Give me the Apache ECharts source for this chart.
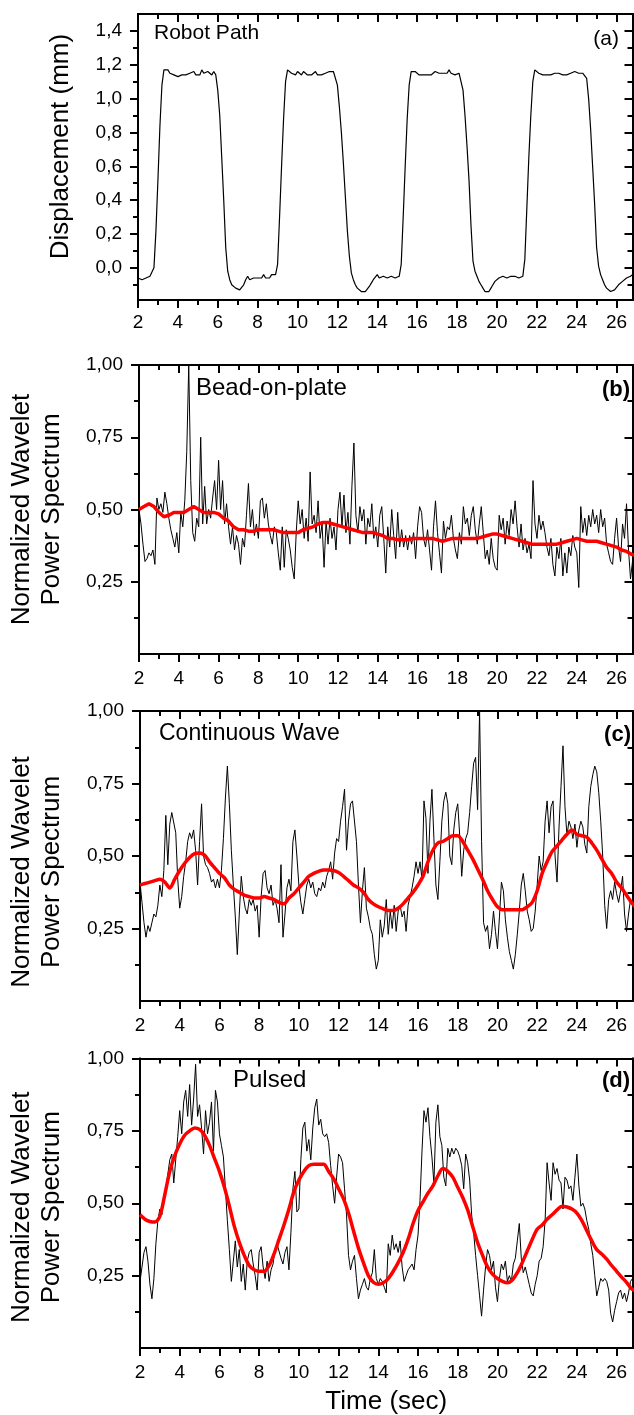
<!DOCTYPE html>
<html>
<head>
<meta charset="UTF-8">
<title>Robot path and wavelet power spectrum</title>
<script src="https://cdn.jsdelivr.net/npm/echarts@6.0.0/dist/echarts.min.js"></script>
<style>
  html, body { margin: 0; padding: 0; background: #fff; }
  #main { width: 634px; height: 1415px; }
</style>
</head>
<body>
<div id="main"></div>
<script type="text/javascript">
// traces start at 2 s; raw traces every 0.1 s, smoothed (red) every 0.25 s
var t0 = 2.0;
var dtRaw = 0.1;
var dtSmooth = 0.25;

// tick values
var xMajor = [2, 4, 6, 8, 10, 12, 14, 16, 18, 20, 22, 24, 26];
var xMinor = [3, 5, 7, 9, 11, 13, 15, 17, 19, 21, 23, 25];
var dispMajor = [0, 0.2, 0.4, 0.6, 0.8, 1.0, 1.2, 1.4];
var dispMinor = [-0.1, 0.1, 0.3, 0.5, 0.7, 0.9, 1.1, 1.3];
var powerMajor = [0.25, 0.5, 0.75, 1.0];
var powerMinor = [0.125, 0.375, 0.625, 0.875];

// (a) robot path, mm
var robotPath = [
  -0.06, -0.06, -0.07, -0.06, -0.06, -0.07, -0.05, -0.04, 0.00, 0.22,
  0.52, 0.84, 1.08, 1.17, 1.18, 1.17, 1.15, 1.16, 1.14, 1.15,
  1.13, 1.14, 1.14, 1.15, 1.14, 1.14, 1.15, 1.14, 1.16, 1.14,
  1.15, 1.14, 1.17, 1.15, 1.14, 1.16, 1.15, 1.14, 1.16, 1.14,
  1.05, 0.90, 0.65, 0.40, 0.12, -0.02, -0.07, -0.10, -0.11, -0.12,
  -0.13, -0.13, -0.12, -0.10, -0.07, -0.05, -0.07, -0.07, -0.06, -0.07,
  -0.06, -0.05, -0.06, -0.04, -0.06, -0.05, -0.06, -0.04, -0.05, -0.04,
  0.02, 0.30, 0.60, 0.88, 1.10, 1.17, 1.16, 1.15, 1.16, 1.14,
  1.16, 1.15, 1.14, 1.16, 1.15, 1.14, 1.15, 1.14, 1.15, 1.16,
  1.14, 1.15, 1.14, 1.14, 1.15, 1.14, 1.16, 1.15, 1.16, 1.17,
  1.08, 0.95, 0.80, 0.62, 0.42, 0.22, 0.07, -0.03, -0.07, -0.10,
  -0.12, -0.13, -0.14, -0.15, -0.14, -0.13, -0.11, -0.09, -0.07, -0.07,
  -0.04, -0.06, -0.06, -0.05, -0.05, -0.06, -0.05, -0.05, -0.05, -0.06,
  -0.05, -0.05, 0.02, 0.30, 0.60, 0.88, 1.08, 1.16, 1.17, 1.16,
  1.15, 1.14, 1.15, 1.14, 1.13, 1.14, 1.15, 1.14, 1.15, 1.16,
  1.15, 1.15, 1.14, 1.15, 1.16, 1.15, 1.17, 1.15, 1.15, 1.14,
  1.15, 1.15, 1.14, 1.05, 0.90, 0.72, 0.52, 0.25, 0.04, -0.02,
  -0.05, -0.08, -0.10, -0.12, -0.14, -0.15, -0.14, -0.12, -0.10, -0.08,
  -0.07, -0.06, -0.06, -0.05, -0.05, -0.06, -0.05, -0.05, -0.06, -0.05,
  -0.05, -0.06, -0.05, -0.05, 0.05, 0.35, 0.65, 0.90, 1.10, 1.17,
  1.16, 1.15, 1.15, 1.14, 1.15, 1.14, 1.15, 1.14, 1.15, 1.15,
  1.14, 1.15, 1.16, 1.14, 1.15, 1.14, 1.15, 1.15, 1.14, 1.16,
  1.15, 1.15, 1.14, 1.15, 1.15, 1.12, 1.00, 0.82, 0.60, 0.38,
  0.12, 0.01, -0.04, -0.07, -0.10, -0.12, -0.13, -0.14, -0.14, -0.13,
  -0.12, -0.10, -0.09, -0.08, -0.07, -0.06, -0.05, -0.05, -0.04
];

// (b) bead-on-plate
var beadRaw = [
  0.50, 0.45, 0.38, 0.32, 0.33, 0.35, 0.34, 0.36, 0.31, 0.54,
  0.50, 0.52, 0.49, 0.56, 0.52, 0.47, 0.43, 0.40, 0.37, 0.42,
  0.35, 0.49, 0.44, 0.53, 0.70, 1.00, 0.60, 0.42, 0.39, 0.47,
  0.44, 0.75, 0.45, 0.58, 0.45, 0.50, 0.47, 0.54, 0.60, 0.50,
  0.67, 0.50, 0.60, 0.45, 0.52, 0.44, 0.38, 0.44, 0.36, 0.41,
  0.38, 0.31, 0.40, 0.37, 0.48, 0.59, 0.44, 0.50, 0.41, 0.45,
  0.40, 0.53, 0.54, 0.47, 0.52, 0.45, 0.41, 0.38, 0.44, 0.42,
  0.35, 0.29, 0.44, 0.30, 0.43, 0.40, 0.36, 0.30, 0.26, 0.42,
  0.53, 0.45, 0.50, 0.40, 0.47, 0.39, 0.63, 0.45, 0.48, 0.42,
  0.53, 0.40, 0.45, 0.30, 0.46, 0.38, 0.47, 0.40, 0.44, 0.36,
  0.50, 0.56, 0.44, 0.55, 0.42, 0.49, 0.38, 0.58, 0.73, 0.48,
  0.42, 0.51, 0.46, 0.50, 0.38, 0.47, 0.44, 0.52, 0.40, 0.44,
  0.37, 0.48, 0.51, 0.40, 0.28, 0.44, 0.37, 0.50, 0.41, 0.33,
  0.49, 0.37, 0.43, 0.37, 0.41, 0.36, 0.41, 0.38, 0.42, 0.33,
  0.44, 0.51, 0.49, 0.40, 0.37, 0.43, 0.36, 0.29, 0.44, 0.53,
  0.42, 0.35, 0.28, 0.46, 0.40, 0.44, 0.43, 0.48, 0.40, 0.36,
  0.33, 0.42, 0.38, 0.51, 0.45, 0.47, 0.41, 0.48, 0.51, 0.43,
  0.38, 0.45, 0.51, 0.42, 0.33, 0.36, 0.31, 0.40, 0.33, 0.30,
  0.29, 0.48, 0.43, 0.47, 0.38, 0.46, 0.41, 0.50, 0.45, 0.53,
  0.44, 0.37, 0.45, 0.36, 0.40, 0.35, 0.38, 0.33, 0.60, 0.45,
  0.40, 0.48, 0.43, 0.46, 0.42, 0.37, 0.34, 0.40, 0.31, 0.27,
  0.37, 0.33, 0.40, 0.27, 0.35, 0.28, 0.37, 0.34, 0.41, 0.37,
  0.35, 0.23, 0.51, 0.42, 0.47, 0.41, 0.48, 0.44, 0.50, 0.45,
  0.48, 0.42, 0.50, 0.44, 0.47, 0.38, 0.35, 0.32, 0.31, 0.40,
  0.47, 0.37, 0.32, 0.45, 0.40, 0.52, 0.36, 0.26, 0.32
];
var beadSmooth = [
  0.50, 0.51, 0.52, 0.51, 0.49, 0.475, 0.48, 0.49, 0.49, 0.49,
  0.50, 0.51, 0.50, 0.49, 0.49, 0.49, 0.485, 0.47, 0.46, 0.44,
  0.43, 0.43, 0.425, 0.425, 0.43, 0.43, 0.43, 0.43, 0.425, 0.42,
  0.42, 0.42, 0.42, 0.43, 0.435, 0.44, 0.45, 0.455, 0.455, 0.45,
  0.445, 0.44, 0.435, 0.43, 0.425, 0.42, 0.42, 0.42, 0.415, 0.41,
  0.40, 0.40, 0.395, 0.395, 0.395, 0.40, 0.40, 0.40, 0.40, 0.40,
  0.395, 0.39, 0.395, 0.40, 0.40, 0.40, 0.40, 0.40, 0.40, 0.405,
  0.41, 0.415, 0.415, 0.41, 0.405, 0.40, 0.395, 0.39, 0.385, 0.38,
  0.38, 0.38, 0.38, 0.38, 0.38, 0.385, 0.39, 0.395, 0.40, 0.395,
  0.39, 0.39, 0.39, 0.385, 0.38, 0.375, 0.37, 0.36, 0.355, 0.345,
  0.34
];

// (c) continuous wave
var cwRaw = [
  0.41, 0.34, 0.27, 0.22, 0.26, 0.24, 0.27, 0.30, 0.29, 0.33,
  0.40, 0.36, 0.45, 0.64, 0.47, 0.61, 0.65, 0.65, 0.58, 0.42,
  0.32, 0.36, 0.43, 0.48, 0.55, 0.58, 0.56, 0.59, 0.52, 0.40,
  0.55, 0.68, 0.50, 0.47, 0.46, 0.44, 0.41, 0.42, 0.39, 0.42,
  0.39, 0.45, 0.56, 0.70, 0.81, 0.68, 0.52, 0.40, 0.29, 0.16,
  0.30, 0.43, 0.36, 0.32, 0.30, 0.35, 0.33, 0.35, 0.31, 0.33,
  0.22, 0.36, 0.44, 0.45, 0.39, 0.37, 0.40, 0.33, 0.35, 0.32,
  0.27, 0.47, 0.22, 0.30, 0.39, 0.42, 0.38, 0.55, 0.59, 0.50,
  0.40, 0.34, 0.30, 0.35, 0.40, 0.42, 0.39, 0.41, 0.37, 0.36,
  0.39, 0.38, 0.41, 0.39, 0.43, 0.45, 0.48, 0.42, 0.51, 0.56,
  0.55, 0.62, 0.67, 0.73, 0.52, 0.62, 0.68, 0.69, 0.69, 0.55,
  0.40, 0.27, 0.38, 0.46, 0.32, 0.29, 0.25, 0.23, 0.16, 0.11,
  0.14, 0.28, 0.22, 0.26, 0.35, 0.23, 0.31, 0.25, 0.33, 0.24,
  0.31, 0.33, 0.29, 0.31, 0.24, 0.33, 0.36, 0.39, 0.43, 0.48,
  0.44, 0.48, 0.42, 0.69, 0.63, 0.44, 0.62, 0.73, 0.56, 0.40,
  0.35, 0.48, 0.62, 0.69, 0.72, 0.68, 0.50, 0.47, 0.59, 0.65,
  0.68, 0.57, 0.43, 0.52, 0.56, 0.58, 0.65, 0.74, 0.82, 0.84,
  0.66, 1.00, 0.55, 0.27, 0.24, 0.26, 0.18, 0.23, 0.31, 0.24,
  0.18, 0.29, 0.41, 0.38, 0.28, 0.22, 0.17, 0.14, 0.11, 0.16,
  0.23, 0.31, 0.40, 0.44, 0.38, 0.31, 0.28, 0.24, 0.25, 0.31,
  0.40, 0.50, 0.45, 0.48, 0.62, 0.69, 0.58, 0.67, 0.69, 0.50,
  0.41, 0.60, 0.74, 0.88, 0.67, 0.57, 0.62, 0.60, 0.56, 0.61,
  0.53, 0.59, 0.62, 0.60, 0.54, 0.51, 0.67, 0.74, 0.78, 0.81,
  0.79, 0.72, 0.62, 0.50, 0.33, 0.25, 0.35, 0.38, 0.35, 0.41,
  0.37, 0.34, 0.38, 0.43, 0.30, 0.24, 0.30, 0.35, 0.34
];
var cwSmooth = [
  0.40, 0.405, 0.41, 0.415, 0.42, 0.41, 0.39, 0.42, 0.45, 0.475,
  0.495, 0.508, 0.51, 0.503, 0.48, 0.46, 0.44, 0.425, 0.40, 0.385,
  0.375, 0.365, 0.36, 0.355, 0.355, 0.36, 0.355, 0.35, 0.34, 0.335,
  0.355, 0.37, 0.39, 0.41, 0.43, 0.44, 0.447, 0.452, 0.452, 0.45,
  0.443, 0.43, 0.415, 0.40, 0.39, 0.375, 0.35, 0.335, 0.325, 0.318,
  0.312, 0.312, 0.32, 0.335, 0.355, 0.375, 0.40, 0.43, 0.48, 0.52,
  0.545, 0.55, 0.56, 0.57, 0.57, 0.55, 0.52, 0.49, 0.455, 0.42,
  0.38, 0.35, 0.325, 0.315, 0.315, 0.315, 0.315, 0.315, 0.325, 0.34,
  0.38, 0.44, 0.48, 0.515, 0.535, 0.555, 0.575, 0.59, 0.575, 0.57,
  0.565, 0.545, 0.52, 0.49, 0.46, 0.44, 0.41, 0.39, 0.365, 0.34,
  0.32
];

// (d) pulsed
var pulsedRaw = [
  0.23, 0.28, 0.33, 0.35, 0.30, 0.22, 0.17, 0.24, 0.36, 0.44,
  0.48, 0.46, 0.52, 0.55, 0.60, 0.65, 0.67, 0.57, 0.65, 0.73,
  0.82, 0.74, 0.85, 0.89, 0.80, 0.91, 0.77, 0.86, 0.98, 0.80,
  0.84, 0.76, 0.67, 0.82, 0.74, 0.78, 0.85, 0.68, 0.89, 0.85,
  0.74, 0.70, 0.66, 0.55, 0.44, 0.34, 0.23, 0.30, 0.37, 0.28,
  0.34, 0.23, 0.29, 0.20, 0.30, 0.33, 0.34, 0.29, 0.25, 0.20,
  0.33, 0.35, 0.28, 0.24, 0.30, 0.23, 0.27, 0.29, 0.34, 0.36,
  0.36, 0.31, 0.29, 0.33, 0.35, 0.27, 0.40, 0.55, 0.61, 0.47,
  0.48, 0.65, 0.76, 0.78, 0.68, 0.72, 0.65, 0.76, 0.83, 0.86,
  0.77, 0.79, 0.74, 0.73, 0.74, 0.71, 0.63, 0.56, 0.50, 0.59,
  0.67, 0.66, 0.64, 0.55, 0.46, 0.32, 0.27, 0.30, 0.32, 0.24,
  0.17, 0.20, 0.22, 0.24, 0.21, 0.20, 0.24, 0.26, 0.34, 0.24,
  0.22, 0.24, 0.23, 0.21, 0.19, 0.36, 0.32, 0.39, 0.34, 0.36,
  0.33, 0.37, 0.28, 0.23, 0.25, 0.27, 0.28, 0.29, 0.27, 0.34,
  0.39, 0.51, 0.68, 0.82, 0.78, 0.83, 0.73, 0.66, 0.57, 0.78,
  0.84, 0.73, 0.70, 0.59, 0.56, 0.69, 0.66, 0.69, 0.67, 0.69,
  0.68, 0.66, 0.63, 0.55, 0.67, 0.64, 0.58, 0.46, 0.40, 0.32,
  0.25, 0.18, 0.11, 0.20, 0.28, 0.34, 0.32, 0.27, 0.30, 0.21,
  0.16, 0.24, 0.29, 0.27, 0.30, 0.23, 0.25, 0.23, 0.29, 0.31,
  0.37, 0.43, 0.31, 0.26, 0.28, 0.25, 0.22, 0.19, 0.18, 0.22,
  0.25, 0.30, 0.31, 0.35, 0.44, 0.64, 0.57, 0.51, 0.64, 0.60,
  0.62, 0.58, 0.57, 0.48, 0.59, 0.58, 0.55, 0.56, 0.51, 0.59,
  0.67, 0.56, 0.49, 0.50, 0.48, 0.44, 0.41, 0.36, 0.32, 0.25,
  0.18, 0.21, 0.24, 0.23, 0.24, 0.23, 0.20, 0.12, 0.09, 0.13,
  0.16, 0.19, 0.20, 0.17, 0.19, 0.16, 0.19, 0.23, 0.24
];
var pulsedSmooth = [
  0.46, 0.445, 0.437, 0.435, 0.455, 0.53, 0.61, 0.665, 0.705, 0.735,
  0.75, 0.76, 0.755, 0.735, 0.70, 0.655, 0.61, 0.555, 0.49, 0.42,
  0.365, 0.32, 0.285, 0.27, 0.265, 0.265, 0.285, 0.325, 0.375, 0.425,
  0.48, 0.54, 0.58, 0.61, 0.63, 0.635, 0.635, 0.635, 0.61, 0.585,
  0.55, 0.515, 0.466, 0.405, 0.345, 0.295, 0.25, 0.227, 0.22, 0.225,
  0.24, 0.265, 0.295, 0.33, 0.375, 0.43, 0.475, 0.505, 0.535, 0.56,
  0.595, 0.62, 0.61, 0.59, 0.555, 0.52, 0.477, 0.42, 0.364, 0.32,
  0.28, 0.255, 0.24, 0.23, 0.225, 0.235, 0.26, 0.295, 0.335, 0.375,
  0.41, 0.425, 0.445, 0.46, 0.477, 0.49, 0.487, 0.48, 0.466, 0.44,
  0.405, 0.37, 0.34, 0.325, 0.307, 0.285, 0.265, 0.245, 0.227, 0.205,
  0.195
];

var FONT = '"Liberation Sans", Arial, Helvetica, sans-serif';

// pair each sample with its time
function withTime(vals, step) {
  return vals.map(function (v, i) { return [+(t0 + i * step).toFixed(2), v]; });
}

function commaFmt(digits) {
  return function (v) { return v.toFixed(digits).replace('.', ','); };
}

function axis(gi, pos, min, max, ticks, len, inside, label) {
  return {
    type: 'value', gridIndex: gi, position: pos, min: min, max: max,
    splitLine: { show: false },
    axisLine: { show: true, onZero: false, lineStyle: { color: '#000', width: 2 } },
    axisTick: { show: true, inside: inside, length: len, customValues: ticks,
      lineStyle: { color: '#000', width: 2 } },
    axisLabel: label || { show: false },
    axisPointer: { show: false }
  };
}

var panels = [
  { grid: { left: 138, top: 14, width: 494.5, height: 286 },
    yMin: -0.19, yMax: 1.5, yMajor: dispMajor, yMinor: dispMinor, digits: 1, xMargin: 13,
    yName: 'Displacement (mm)', yGap: 62, yPad: [0, 0, 0, 21],
    raw: robotPath, rawWidth: 1.2, smooth: null },
  { grid: { left: 139, top: 365, width: 493.5, height: 289 },
    yMin: 0, yMax: 1, yMajor: powerMajor, yMinor: powerMinor, digits: 2, xMargin: 15,
    yName: 'Normalized Wavelet\nPower Spectrum', yGap: 72, yPad: [0, 0, 0, 0],
    raw: beadRaw, rawWidth: 1, smooth: beadSmooth },
  { grid: { left: 140, top: 711, width: 492.5, height: 290 },
    yMin: 0, yMax: 1, yMajor: powerMajor, yMinor: powerMinor, digits: 2, xMargin: 15,
    yName: 'Normalized Wavelet\nPower Spectrum', yGap: 73, yPad: [0, 32, 0, 0],
    raw: cwRaw, rawWidth: 1, smooth: cwSmooth },
  { grid: { left: 140, top: 1058.5, width: 492.5, height: 289.5 },
    yMin: 0, yMax: 1, yMajor: powerMajor, yMinor: powerMinor, digits: 2, xMargin: 15,
    yName: 'Normalized Wavelet\nPower Spectrum', yGap: 73, yPad: [0, 8, 0, 0],
    xName: 'Time (sec)',
    raw: pulsedRaw, rawWidth: 1, smooth: pulsedSmooth }
];

var grids = [], xAxes = [], yAxes = [], series = [];

panels.forEach(function (p, gi) {
  grids.push(Object.assign({ containLabel: false, outerBoundsMode: 'none' }, p.grid));
  var xi = xAxes.length, yi = yAxes.length;

  var xMain = axis(gi, 'bottom', 2, 26.8, xMajor, 8, false, {
    show: true, customValues: xMajor, margin: p.xMargin,
    fontSize: 19, fontFamily: FONT, color: '#000'
  });
  if (p.xName) {
    xMain.name = p.xName;
    xMain.nameLocation = 'middle';
    xMain.nameGap = 41;
    xMain.nameMoveOverlap = false;
    xMain.nameTextStyle = { fontSize: 26, fontFamily: FONT, color: '#000' };
  }
  xAxes.push(xMain);
  xAxes.push(axis(gi, 'bottom', 2, 26.8, xMinor, 5, false));
  xAxes.push(axis(gi, 'top', 2, 26.8, xMajor, 8, true));
  xAxes.push(axis(gi, 'top', 2, 26.8, xMinor, 5, true));

  var yMain = axis(gi, 'left', p.yMin, p.yMax, p.yMajor, 8, false, {
    show: true, customValues: p.yMajor, margin: 16, formatter: commaFmt(p.digits),
    fontSize: 19, fontFamily: FONT, color: '#000'
  });
  yMain.name = p.yName;
  yMain.nameLocation = 'middle';
  yMain.nameRotate = 90;
  yMain.nameGap = p.yGap;
  yMain.nameMoveOverlap = false;
  yMain.nameTextStyle = { fontSize: 26, fontFamily: FONT, color: '#000', lineHeight: 30, padding: p.yPad };
  yAxes.push(yMain);
  yAxes.push(axis(gi, 'left', p.yMin, p.yMax, p.yMinor, 5, false));
  yAxes.push(axis(gi, 'right', p.yMin, p.yMax, p.yMajor, 8, true));
  yAxes.push(axis(gi, 'right', p.yMin, p.yMax, p.yMinor, 5, true));

  series.push({
    type: 'line', xAxisIndex: xi, yAxisIndex: yi,
    data: withTime(p.raw, dtRaw),
    symbol: 'none', silent: true, z: 2,
    lineStyle: { color: '#000', width: p.rawWidth }
  });
  if (p.smooth) {
    series.push({
      type: 'line', xAxisIndex: xi, yAxisIndex: yi,
      data: withTime(p.smooth, dtSmooth),
      symbol: 'none', silent: true, z: 3, smooth: gi === 1 ? false : 0.3,
      lineStyle: { color: '#ff0000', width: 3.5 }
    });
  }
});

// panel captions
var captions = [
  { text: 'Robot Path', x: 154, y: 33, size: 21, weight: 'normal', align: 'left' },
  { text: '(a)', x: 619, y: 39, size: 21, weight: 'normal', align: 'right' },
  { text: 'Bead-on-plate', x: 196, y: 388, size: 24, weight: 'normal', align: 'left' },
  { text: '(b)', x: 630, y: 390, size: 22, weight: 'bold', align: 'right' },
  { text: 'Continuous Wave', x: 159, y: 734, size: 23, weight: 'normal', align: 'left' },
  { text: '(c)', x: 631, y: 735, size: 22, weight: 'bold', align: 'right' },
  { text: 'Pulsed', x: 233, y: 1080, size: 24, weight: 'normal', align: 'left' },
  { text: '(d)', x: 630, y: 1081, size: 22, weight: 'bold', align: 'right' }
];

var myChart = echarts.init(document.getElementById('main'));
myChart.setOption({
  animation: false,
  backgroundColor: '#fff',
  grid: grids,
  xAxis: xAxes,
  yAxis: yAxes,
  series: series,
  graphic: captions.map(function (c) {
    return {
      type: 'text', x: c.x, y: c.y, silent: true, z: 100,
      style: {
        text: c.text, fill: '#000',
        font: c.weight + ' ' + c.size + 'px ' + FONT,
        textAlign: c.align, textVerticalAlign: 'middle'
      }
    };
  })
});
</script>
</body>
</html>
